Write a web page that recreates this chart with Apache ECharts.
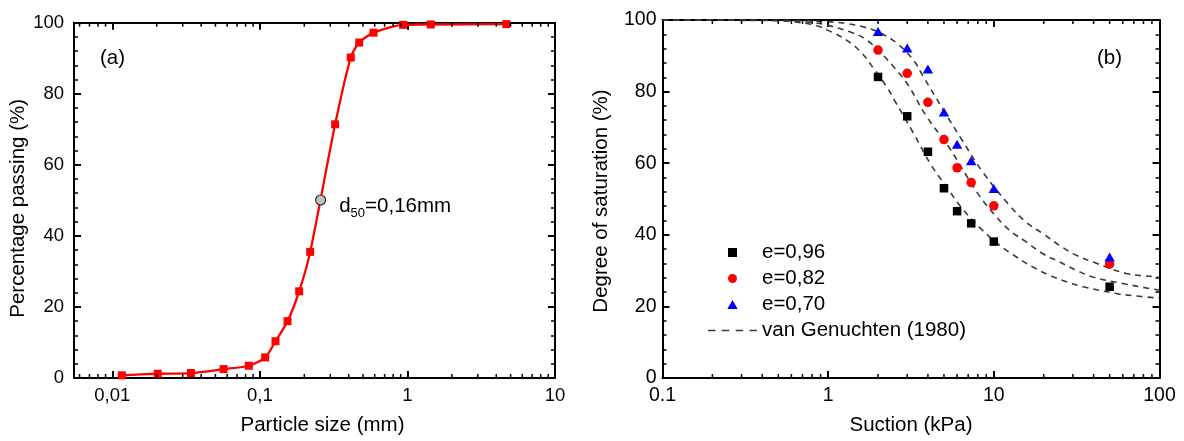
<!DOCTYPE html>
<html>
<head>
<meta charset="utf-8">
<script src="https://cdn.jsdelivr.net/npm/echarts@6/dist/echarts.min.js"></script>
<style>
html,body{margin:0;padding:0;background:#fff;}
#chart{width:1184px;height:441px;}
</style>
</head>
<body>
<div id="chart"></div>
<script>
// ---------- Panel (a): grain size distribution ----------
const gsdSize = [0.0116, 0.0203, 0.0341, 0.0568, 0.0842, 0.1087, 0.1276, 0.154, 0.1846, 0.2193, 0.3236, 0.413, 0.471, 0.589, 0.935, 1.44, 4.68];
const gsdPass = [0.75, 1.2, 1.4, 2.5, 3.45, 5.8, 10.35, 16.0, 24.4, 35.5, 71.4, 90.2, 94.4, 97.2, 99.4, 99.5, 99.6];
const d50Size = [0.258];
const d50Pass = [50.1];
const gsdTickValues = [0.01, 0.1, 1, 10];
const gsdTickLabels = ['0,01', '0,1', '1', '10'];

// ---------- Panel (b): water retention ----------
const suction = [2, 3, 4, 5, 6, 7.3, 10, 50];
const satE096 = [84.1, 73.1, 63.2, 53.0, 46.6, 43.2, 38.1, 25.5];
const satE082 = [91.6, 85.1, 77.0, 66.6, 58.7, 54.6, 48.1, 31.8];
const satE070 = [96.8, 92.2, 86.3, 74.3, 65.3, 60.7, 52.9, 33.8];

// van Genuchten (1980) fitted curves
const vgSuctionA = [0.1, 0.3, 0.5, 0.65, 0.85, 1.0, 1.29, 1.6, 1.91, 2.25, 2.52, 3.26, 4.21, 5.18, 6.38, 8.22, 10.9, 13.7, 17.2, 21.7, 27.4, 34.5, 54.8, 69.2, 100];
const vgSatA     = [100, 99.9, 99.8, 99.4, 98.4, 97.1, 94.4, 90.7, 86.0, 81.4, 77.5, 68.5, 59.3, 53.4, 47.6, 42.0, 37.0, 33.8, 31.0, 28.7, 26.9, 25.5, 23.6, 23.0, 22.3];
const vgSuctionB = [0.1, 0.5, 0.8, 1.0, 1.35, 1.66, 2.05, 2.52, 3.03, 3.92, 5.3, 6.84, 8.22, 10.1, 12.5, 15.7, 19.8, 25, 31.5, 39.7, 60.1, 87.1, 100];
const vgSatB     = [100, 99.9, 99.3, 98.5, 96.7, 94.8, 91.1, 86.6, 81.9, 73.1, 64.8, 56.5, 50.8, 45.6, 41.2, 38.0, 34.7, 32.4, 30.1, 28.2, 26.4, 25.0, 24.6];
const vgSuctionC = [0.1, 0.6, 1.0, 1.29, 1.62, 2.0, 2.6, 3.26, 3.74, 4.94, 6.38, 8.61, 12.5, 15.7, 19.8, 25, 31.5, 39.7, 63.1, 95.7, 100];
const vgSatC     = [100, 99.9, 99.5, 99.0, 98.1, 96.7, 93.5, 88.9, 84.3, 75.0, 66.7, 57.4, 48.1, 43.5, 40.3, 37.0, 34.3, 32.4, 29.2, 28.25, 28.1];
const suctionTickValues = [0.1, 1, 10, 100];
const suctionTickLabels = ['0.1', '1', '10', '100'];

const FONT = 'Liberation Sans, Arial, sans-serif';

function zip(xs, ys) { return xs.map((x, i) => [x, ys[i]]); }
function minorLogTicks(lo, hi) {
  const out = [];
  for (let k = -4; k <= 3; k++) {
    for (let m = 2; m <= 9; m++) {
      const v = m * Math.pow(10, k);
      if (v > lo * 1.0001 && v < hi * 0.9999) out.push([v, 0]);
    }
  }
  return out;
}
function labelFor(values, labels) {
  return function (v) {
    const i = values.findIndex(t => Math.abs(t - v) / t < 1e-6);
    return i >= 0 ? labels[i] : '';
  };
}

const gsdMin = 0.0055, gsdMax = 10;
const sucMin = 0.1, sucMax = 100;

function logX(gridIndex, min, max, pos, showLabel, values, labels, fontSize) {
  return {
    type: 'log', logBase: 10, gridIndex: gridIndex, position: pos, min: min, max: max,
    axisLine: { show: true, onZero: false, lineStyle: { color: '#000', width: 2 } },
    axisTick: { show: true, inside: true, length: 7, lineStyle: { color: '#000', width: 2 } },
    minorTick: { show: false },
    splitLine: { show: false },
    axisLabel: showLabel ? { show: true, margin: 8, color: '#000', fontFamily: FONT, fontSize: fontSize,
      formatter: labelFor(values, labels), showMinLabel: true, showMaxLabel: true } : { show: false }
  };
}
function valY(gridIndex, pos, showLabel, margin, fontSize) {
  return {
    type: 'value', gridIndex: gridIndex, position: pos, min: 0, max: 100, interval: 20,
    axisLine: { show: true, onZero: false, lineStyle: { color: '#000', width: 2 } },
    axisTick: { show: true, inside: true, length: 7, lineStyle: { color: '#000', width: 2 } },
    minorTick: { show: true, splitNumber: 5, length: 4, lineStyle: { color: '#000', width: 1.5 } },
    splitLine: { show: false },
    axisLabel: showLabel ? { show: true, margin: margin, color: '#000', fontFamily: FONT, fontSize: fontSize } : { show: false }
  };
}
function minorTickSeries(xi, yi, lo, hi) {
  return {
    type: 'custom', xAxisIndex: xi, yAxisIndex: yi, silent: true, z: 10, clip: false,
    data: minorLogTicks(lo, hi),
    renderItem: function (params, api) {
      const b = api.coord([api.value(0), 0]);
      const t = api.coord([api.value(0), 100]);
      const st = { stroke: '#000', lineWidth: 1.5 };
      return { type: 'group', children: [
        { type: 'line', shape: { x1: b[0], y1: b[1], x2: b[0], y2: b[1] - 4 }, style: st },
        { type: 'line', shape: { x1: t[0], y1: t[1], x2: t[0], y2: t[1] + 4 }, style: st }
      ] };
    }
  };
}

const vgStyle = { color: '#3a3a3a', width: 1.6, type: [6, 5] };

const option = {
  animation: false,
  backgroundColor: '#fff',
  textStyle: { fontFamily: FONT },
  title: [
    { text: '(a)', left: 100, top: 48, padding: 0, textStyle: { fontFamily: FONT, fontSize: 20.5, fontWeight: 'normal', color: '#000' } },
    { text: '(b)', left: 1097, top: 48, padding: 0, textStyle: { fontFamily: FONT, fontSize: 20.5, fontWeight: 'normal', color: '#000' } }
  ],
  grid: [
    { left: 74, top: 22.7, width: 481, height: 357.3 },
    { left: 662.5, top: 20, width: 497, height: 360 }
  ],
  legend: {
    orient: 'vertical', left: 708, top: 242, padding: 0,
    itemWidth: 49, itemHeight: 9, itemGap: 5, symbolKeepAspect: true,
    textStyle: { fontFamily: FONT, fontSize: 20.5, color: '#000' },
    data: [
      { name: 'e=0,96', icon: 'path://M0,0h10v10h-10z' },
      { name: 'e=0,82', icon: 'circle' },
      { name: 'e=0,70', icon: 'path://M6,0L12,10.4L0,10.4z' },
      { name: 'van Genuchten (1980)', icon: 'path://M0,0h7v1.6h-7zM13,0h7v1.6h-7zM26,0h7v1.6h-7zM39,0h7v1.6h-7z' }
    ]
  },
  xAxis: [
    Object.assign(logX(0, gsdMin, gsdMax, 'bottom', true, gsdTickValues, gsdTickLabels, 18.5), {
      name: 'Particle size (mm)', nameLocation: 'middle', nameGap: 37,
      nameTextStyle: { fontFamily: FONT, fontSize: 20.5, color: '#000', padding: [0, 0, 0, 16] }
    }),
    logX(0, gsdMin, gsdMax, 'top', false),
    Object.assign(logX(1, sucMin, sucMax, 'bottom', true, suctionTickValues, suctionTickLabels, 19.5), {
      name: 'Suction (kPa)', nameLocation: 'middle', nameGap: 37,
      nameTextStyle: { fontFamily: FONT, fontSize: 20.5, color: '#000' }
    }),
    logX(1, sucMin, sucMax, 'top', false)
  ],
  yAxis: [
    Object.assign(valY(0, 'left', true, 10, 18.5), {
      name: 'Percentage passing (%)', nameLocation: 'middle', nameGap: 38,
      nameTextStyle: { fontFamily: FONT, fontSize: 20.5, color: '#000', padding: [0, 16, 0, 0] }
    }),
    valY(0, 'right', false),
    Object.assign(valY(1, 'left', true, 6, 19.5), {
      name: 'Degree of saturation (%)', nameLocation: 'middle', nameGap: 51,
      nameTextStyle: { fontFamily: FONT, fontSize: 20.5, color: '#000', padding: [0, 4, 0, 0] }
    }),
    valY(1, 'right', false)
  ],
  series: [
    minorTickSeries(0, 0, gsdMin, gsdMax),
    minorTickSeries(2, 2, sucMin, sucMax),
    {
      name: 'gsd', type: 'line', xAxisIndex: 0, yAxisIndex: 0, data: zip(gsdSize, gsdPass),
      smooth: 0.25, symbol: 'rect', symbolSize: 8, showSymbol: true,
      lineStyle: { color: '#ff0000', width: 2.3 }, itemStyle: { color: '#ff0000' }, z: 3
    },
    {
      name: 'd50', type: 'scatter', xAxisIndex: 0, yAxisIndex: 0, data: zip(d50Size, d50Pass),
      symbol: 'circle', symbolSize: 10, itemStyle: { color: '#c0c0c0', borderColor: '#333', borderWidth: 1.2, opacity: 1 }, z: 5,
      label: {
        show: true, position: 'right', offset: [8, 6], color: '#000',
        formatter: '{n|d}{s|50}{n|=0,16mm}',
        rich: {
          n: { fontFamily: FONT, fontSize: 20.5, lineHeight: 28, color: '#000' },
          s: { fontFamily: FONT, fontSize: 13, lineHeight: 13, verticalAlign: 'bottom', color: '#000' }
        }
      }
    },
    { name: 'van Genuchten (1980)', type: 'line', xAxisIndex: 2, yAxisIndex: 2, data: zip(vgSuctionA, vgSatA),
      smooth: 0.4, symbol: 'none', lineStyle: vgStyle, itemStyle: { color: '#3a3a3a' }, z: 2 },
    { name: 'van Genuchten (1980)', type: 'line', xAxisIndex: 2, yAxisIndex: 2, data: zip(vgSuctionB, vgSatB),
      smooth: 0.4, symbol: 'none', lineStyle: vgStyle, itemStyle: { color: '#3a3a3a' }, z: 2 },
    { name: 'van Genuchten (1980)', type: 'line', xAxisIndex: 2, yAxisIndex: 2, data: zip(vgSuctionC, vgSatC),
      smooth: 0.4, symbol: 'none', lineStyle: vgStyle, itemStyle: { color: '#3a3a3a' }, z: 2 },
    { name: 'e=0,96', type: 'scatter', xAxisIndex: 2, yAxisIndex: 2, data: zip(suction, satE096),
      symbol: 'rect', symbolSize: 8.5, itemStyle: { color: '#000000', opacity: 1 }, z: 4 },
    { name: 'e=0,82', type: 'scatter', xAxisIndex: 2, yAxisIndex: 2, data: zip(suction, satE082),
      symbol: 'circle', symbolSize: 9.5, itemStyle: { color: '#ff0000', opacity: 1 }, z: 4 },
    { name: 'e=0,70', type: 'scatter', xAxisIndex: 2, yAxisIndex: 2, data: zip(suction, satE070),
      symbol: 'triangle', symbolSize: [10.5, 9], itemStyle: { color: '#0000ff', opacity: 1 }, z: 4 }
  ]
};

const chart = echarts.init(document.getElementById('chart'), null, { renderer: 'canvas' });
chart.setOption(option);
</script>
</body>
</html>
